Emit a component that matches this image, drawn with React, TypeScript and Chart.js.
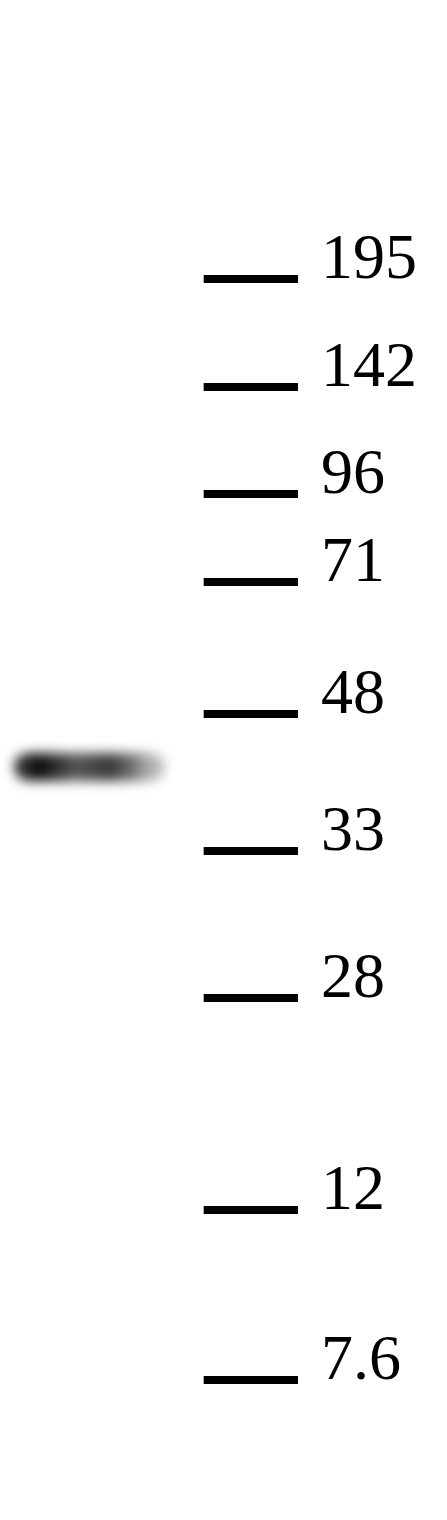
import { useEffect, useRef } from 'react'
import { Chart, registerables } from 'chart.js'
import type { ChartConfiguration, Plugin } from 'chart.js'

Chart.register(...registerables)

// ladder sizes (kDa) and how far each marker ran, in mm from top of frame
const markerSizes = ['195', '142', '96', '71', '48', '33', '28', '12', '7.6']
const markerMigration = [13.95, 19.35, 24.7, 29.1, 35.7, 42.55, 49.9, 60.5, 69.0]

// marker lane edges, mm across the frame
const markerLane = [10.15, 14.85]

// sample lane: single band (~40 kDa), densitometry read along the lane
const bandMigration = 38.35
const bandX = [1.4, 1.85, 2.75, 3.75, 4.75, 5.5, 6.5, 7.5]
const bandIntensity = [0.85, 1.0, 0.85, 0.68, 0.75, 0.8, 0.6, 0.3]

const grey = (v: number) => {
  const g = Math.round(255 * (1 - v * 0.97))
  return `rgb(${g}, ${g}, ${g})`
}

// soften the band like film exposure
const blurBand: Plugin = {
  id: 'blurBand',
  beforeDatasetDraw(chart, args) {
    if (args.index === 1) {
      chart.ctx.save()
      chart.ctx.filter = 'blur(6px)'
    }
  },
  afterDatasetDraw(chart, args) {
    if (args.index === 1) chart.ctx.restore()
  },
}

export default function App() {
  const canvasRef = useRef<HTMLCanvasElement>(null)
  const chartRef = useRef<Chart | null>(null)

  useEffect(() => {
    document.body.style.margin = '0'
    if (!canvasRef.current) return
    if (chartRef.current) chartRef.current.destroy()

    const markerPoints = markerMigration.flatMap((y) => [
      { x: markerLane[0], y },
      { x: markerLane[1], y },
      { x: markerLane[1], y: null },
    ])

    const bandPoints = bandX.map((x) => ({ x, y: bandMigration }))

    const config: ChartConfiguration = {
      type: 'line',
      data: {
        datasets: [
          {
            label: 'marker',
            data: markerPoints as any,
            borderColor: '#000',
            borderWidth: 8,
            borderCapStyle: 'butt',
            pointRadius: 0,
            spanGaps: false,
            fill: false,
          },
          {
            label: 'sample',
            data: bandPoints,
            borderColor: (ctx) => {
              const xs = ctx.chart.scales.x
              if (!xs) return '#222'
              const x0 = xs.getPixelForValue(bandX[0])
              const x1 = xs.getPixelForValue(bandX[bandX.length - 1])
              if (!isFinite(x0) || !isFinite(x1) || x1 <= x0) return '#222'
              const g = ctx.chart.ctx.createLinearGradient(x0, 0, x1, 0)
              const span = bandX[bandX.length - 1] - bandX[0]
              bandX.forEach((v, i) => g.addColorStop((v - bandX[0]) / span, grey(bandIntensity[i])))
              return g
            },
            borderWidth: 28,
            borderCapStyle: 'round',
            pointRadius: 0,
            fill: false,
            tension: 0,
          },
        ],
      },
      options: {
        animation: false,
        responsive: true,
        maintainAspectRatio: false,
        layout: { padding: { left: 0, right: 10, top: 0, bottom: 0 } },
        plugins: {
          legend: { display: false },
          tooltip: { enabled: false },
        },
        scales: {
          x: { type: 'linear', min: 0, max: 15, display: false },
          y: {
            type: 'linear',
            position: 'right',
            reverse: true,
            min: 0,
            max: 76,
            grid: { display: false, drawTicks: false },
            border: { display: false },
            afterBuildTicks: (scale) => {
              scale.ticks = markerMigration.map((value) => ({ value }))
            },
            afterFit: (scale) => {
              scale.paddingTop = 0
              scale.paddingBottom = 0
            },
            ticks: {
              padding: 20,
              labelOffset: -18,
              color: '#000',
              font: { family: 'Liberation Serif', size: 64 },
              callback: (_v, i) => markerSizes[i],
            },
          },
        },
      },
      plugins: [blurBand],
    }

    chartRef.current = new Chart(canvasRef.current, config)

    return () => {
      if (chartRef.current) {
        chartRef.current.destroy()
        chartRef.current = null
      }
    }
  }, [])

  return (
    <div style={{ width: 447, height: 1520, position: 'relative' }}>
      <canvas ref={canvasRef} />
    </div>
  )
}
